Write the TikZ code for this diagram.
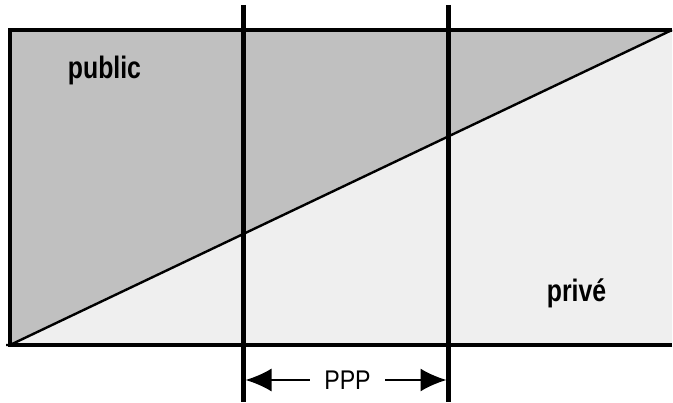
\documentclass[tikz,border=0pt]{standalone}
\usepackage{fontspec}
\setmainfont{Liberation Sans}
\newfontfamily\narrowfont[FakeStretch=0.8]{Liberation Sans}
\newfontfamily\narrowfontb[FakeStretch=0.86]{Liberation Sans}
\usetikzlibrary{arrows.meta}
\definecolor{darkfill}{HTML}{C0C0C0}
\definecolor{lightfill}{HTML}{EFEFEF}
\tikzset{
  border/.style={line width=4pt, line join=miter},
  diag/.style={line width=2.4pt},
  vline/.style={line width=4.5pt},
  arr/.style={line width=2pt, -{Latex[length=26pt, width=23pt]}},
  lab/.style={font=\narrowfont\bfseries\fontsize{31}{34}\selectfont, inner sep=0pt, anchor=base},
  dimlab/.style={font=\narrowfontb\fontsize{27}{30}\selectfont, inner sep=0pt, minimum width=75pt, anchor=base}
}
\begin{document}
\begin{tikzpicture}[x=1pt, y=-1pt]
\useasboundingbox (0,0) rectangle (673,403);
\coordinate (bl) at (10,345);
\coordinate (tl) at (10,30);
\coordinate (tr) at (672,30);
\coordinate (br) at (672,345);
\fill[darkfill] (bl) -- (tl) -- (tr) -- cycle;
\fill[lightfill] (bl) -- (tr) -- (br) -- cycle;
\draw[diag] (6,345) -- (bl) -- (tr);
\draw[border] (br) -- (bl) -- (tl) -- (tr);
\coordinate (v1t) at (243.5,5);
\coordinate (v1b) at (243.5,402);
\coordinate (v2t) at (448.5,5);
\coordinate (v2b) at (448.5,402);
\draw[vline] (v1t) -- (v1b);
\draw[vline] (v2t) -- (v2b);
\node[lab] (public) at (104.5,78.3) {public};
\node[lab] (prive) at (576.5,301.7) {privé};
\node[dimlab] (ppp) at (347.5,389.5) {PPP};
\coordinate (a1) at (245.5,380);
\coordinate (a2) at (446.5,380);
\draw[arr] (ppp.west |- a1) -- (a1);
\draw[arr] (ppp.east |- a2) -- (a2);
\end{tikzpicture}
\end{document}
